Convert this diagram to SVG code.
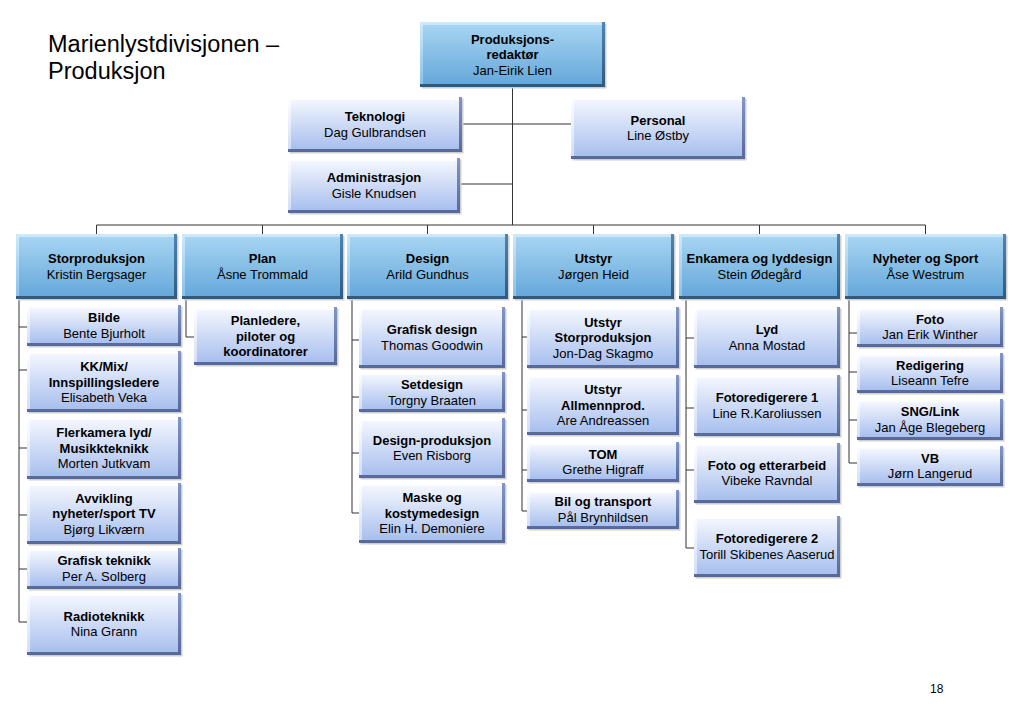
<svg xmlns="http://www.w3.org/2000/svg" width="1023" height="708" viewBox="0 0 1023 708">
<defs>
<linearGradient id="gDB" x1="0" y1="0" x2="0" y2="1">
<stop offset="0" stop-color="#4f85b0"/><stop offset="1" stop-color="#2f5a80"/>
</linearGradient>
<linearGradient id="gDL" x1="0" y1="0" x2="0" y2="1">
<stop offset="0" stop-color="#cdeafa"/><stop offset="1" stop-color="#8cc2e8"/>
</linearGradient>
<linearGradient id="gDF" x1="0" y1="0" x2="0" y2="1">
<stop offset="0" stop-color="#a6d4f2"/><stop offset="1" stop-color="#66a8da"/>
</linearGradient>
<linearGradient id="gLB" x1="0" y1="0" x2="0" y2="1">
<stop offset="0" stop-color="#8196c4"/><stop offset="1" stop-color="#56699a"/>
</linearGradient>
<linearGradient id="gLL" x1="0" y1="0" x2="0" y2="1">
<stop offset="0" stop-color="#ffffff"/><stop offset="1" stop-color="#d2dff7"/>
</linearGradient>
<linearGradient id="gLF" x1="0" y1="0" x2="0" y2="1">
<stop offset="0" stop-color="#f3f6fe"/><stop offset="1" stop-color="#a8bfee"/>
</linearGradient>
</defs>
<style>
.sh{fill:#cfcfcf}
.dB{fill:url(#gDB)}
.dL{fill:url(#gDL)}
.dF{fill:url(#gDF)}
.lB{fill:url(#gLB)}
.lL{fill:url(#gLL)}
.lF{fill:url(#gLF)}
text{font-family:"Liberation Sans",Arial,sans-serif;font-size:13px;fill:#000;text-anchor:middle}
.b{font-weight:bold}
.ttl{font-size:23.5px;text-anchor:start}
.pg{font-size:12px;text-anchor:start}
#connectors path{fill:none;stroke:#333;stroke-width:1}
</style>
<rect width="1023" height="708" fill="#fff"/>
<text class="ttl" x="48" y="52">Marienlystdivisjonen –</text>
<text class="ttl" x="48" y="79">Produksjon</text>
<text class="pg" x="930" y="693">18</text>

<g id="connectors">
<path d="M512.5 87V225M462 124H571M460 184H512.5M96.5 225H925.5M96.5 225V234M262.5 225V234M427.5 225V234M593.5 225V234M759.5 225V234M925.5 225V234"/>
<path d="M19 299V622M19 327H27M19 370H27M19 448H27M19 515H27M19 569H27M19 622H27"/>
<path d="M186 299V337H194"/>
<path d="M352 299V513M352 340H359M352 397H359M352 453H359M352 513H359"/>
<path d="M522 299V511M522 337H527M522 410H527M522 470H527M522 511H527"/>
<path d="M686 299V548M686 338H694M686 408H694M686 470H694M686 548H694"/>
<path d="M849 299V463M849 333H857M849 372H857M849 420H857M849 463H857"/>
</g>

<g id="produksjonsredaktor">
<rect class="sh" x="421.5" y="23.5" width="185" height="65"/><rect class="dB" x="420" y="22" width="185" height="65"/><rect class="dL" x="420" y="22" width="182" height="62"/><rect class="dF" x="423" y="25" width="179" height="59"/>
<text class="b" x="512.5" y="43.5">Produksjons-</text><text class="b" x="512.5" y="59">redaktør</text><text x="512.5" y="74.5">Jan-Eirik Lien</text>
</g>
<g id="teknologi">
<rect class="sh" x="289.5" y="98.5" width="174" height="55"/><rect class="lB" x="288" y="97" width="174" height="55"/><rect class="lL" x="288" y="97" width="171" height="52"/><rect class="lF" x="291" y="100" width="168" height="49"/>
<text class="b" x="375" y="121.25">Teknologi</text><text x="375" y="136.75">Dag Gulbrandsen</text>
</g>
<g id="personal">
<rect class="sh" x="572.5" y="98.5" width="174" height="62"/><rect class="lB" x="571" y="97" width="174" height="62"/><rect class="lL" x="571" y="97" width="171" height="59"/><rect class="lF" x="574" y="100" width="168" height="56"/>
<text class="b" x="658" y="124.75">Personal</text><text x="658" y="140.25">Line Østby</text>
</g>
<g id="administrasjon">
<rect class="sh" x="289.5" y="159.5" width="172" height="55"/><rect class="lB" x="288" y="158" width="172" height="55"/><rect class="lL" x="288" y="158" width="169" height="52"/><rect class="lF" x="291" y="161" width="166" height="49"/>
<text class="b" x="374" y="182.25">Administrasjon</text><text x="374" y="197.75">Gisle Knudsen</text>
</g>

<g id="storproduksjon">
<rect class="sh" x="17.5" y="235.5" width="161" height="65"/><rect class="dB" x="16" y="234" width="161" height="65"/><rect class="dL" x="16" y="234" width="158" height="62"/><rect class="dF" x="19" y="237" width="155" height="59"/>
<text class="b" x="96.5" y="263.25">Storproduksjon</text><text x="96.5" y="278.75">Kristin Bergsager</text>
</g>
<g id="plan">
<rect class="sh" x="183.5" y="235.5" width="161" height="65"/><rect class="dB" x="182" y="234" width="161" height="65"/><rect class="dL" x="182" y="234" width="158" height="62"/><rect class="dF" x="185" y="237" width="155" height="59"/>
<text class="b" x="262.5" y="263.25">Plan</text><text x="262.5" y="278.75">Åsne Trommald</text>
</g>
<g id="design">
<rect class="sh" x="348.5" y="235.5" width="161" height="65"/><rect class="dB" x="347" y="234" width="161" height="65"/><rect class="dL" x="347" y="234" width="158" height="62"/><rect class="dF" x="350" y="237" width="155" height="59"/>
<text class="b" x="427.5" y="263.25">Design</text><text x="427.5" y="278.75">Arild Gundhus</text>
</g>
<g id="utstyr">
<rect class="sh" x="514.5" y="235.5" width="161" height="65"/><rect class="dB" x="513" y="234" width="161" height="65"/><rect class="dL" x="513" y="234" width="158" height="62"/><rect class="dF" x="516" y="237" width="155" height="59"/>
<text class="b" x="593.5" y="263.25">Utstyr</text><text x="593.5" y="278.75">Jørgen Heid</text>
</g>
<g id="enkamera">
<rect class="sh" x="680.5" y="235.5" width="161" height="65"/><rect class="dB" x="679" y="234" width="161" height="65"/><rect class="dL" x="679" y="234" width="158" height="62"/><rect class="dF" x="682" y="237" width="155" height="59"/>
<text class="b" x="759.5" y="263.25">Enkamera og lyddesign</text><text x="759.5" y="278.75">Stein Ødegård</text>
</g>
<g id="nyheter">
<rect class="sh" x="846.5" y="235.5" width="161" height="65"/><rect class="dB" x="845" y="234" width="161" height="65"/><rect class="dL" x="845" y="234" width="158" height="62"/><rect class="dF" x="848" y="237" width="155" height="59"/>
<text class="b" x="925.5" y="263.25">Nyheter og Sport</text><text x="925.5" y="278.75">Åse Westrum</text>
</g>

<g id="bilde">
<rect class="sh" x="28.5" y="306.5" width="154" height="41"/><rect class="lB" x="27" y="305" width="154" height="41"/><rect class="lL" x="27" y="305" width="151" height="38"/><rect class="lF" x="30" y="308" width="148" height="35"/>
<text class="b" x="104" y="322.25">Bilde</text><text x="104" y="337.75">Bente Bjurholt</text>
</g>
<g id="kkmix">
<rect class="sh" x="28.5" y="352.5" width="154" height="61"/><rect class="lB" x="27" y="351" width="154" height="61"/><rect class="lL" x="27" y="351" width="151" height="58"/><rect class="lF" x="30" y="354" width="148" height="55"/>
<text class="b" x="104" y="371">KK/Mix/</text><text class="b" x="104" y="386.5">Innspillingsledere</text><text x="104" y="402">Elisabeth Veka</text>
</g>
<g id="flerkamera">
<rect class="sh" x="28.5" y="418.5" width="154" height="62"/><rect class="lB" x="27" y="417" width="154" height="62"/><rect class="lL" x="27" y="417" width="151" height="59"/><rect class="lF" x="30" y="420" width="148" height="56"/>
<text class="b" x="104" y="437">Flerkamera lyd/</text><text class="b" x="104" y="452.5">Musikkteknikk</text><text x="104" y="468">Morten Jutkvam</text>
</g>
<g id="avvikling">
<rect class="sh" x="28.5" y="484.5" width="154" height="61"/><rect class="lB" x="27" y="483" width="154" height="61"/><rect class="lL" x="27" y="483" width="151" height="58"/><rect class="lF" x="30" y="486" width="148" height="55"/>
<text class="b" x="104" y="502.5">Avvikling</text><text class="b" x="104" y="518">nyheter/sport TV</text><text x="104" y="533.5">Bjørg Likværn</text>
</g>
<g id="grafiskteknikk">
<rect class="sh" x="28.5" y="549.5" width="154" height="41"/><rect class="lB" x="27" y="548" width="154" height="41"/><rect class="lL" x="27" y="548" width="151" height="38"/><rect class="lF" x="30" y="551" width="148" height="35"/>
<text class="b" x="104" y="565.25">Grafisk teknikk</text><text x="104" y="580.75">Per A. Solberg</text>
</g>
<g id="radioteknikk">
<rect class="sh" x="28.5" y="594.5" width="154" height="62"/><rect class="lB" x="27" y="593" width="154" height="62"/><rect class="lL" x="27" y="593" width="151" height="59"/><rect class="lF" x="30" y="596" width="148" height="56"/>
<text class="b" x="104" y="620.75">Radioteknikk</text><text x="104" y="636.25">Nina Grann</text>
</g>

<g id="planledere">
<rect class="sh" x="195.5" y="308.5" width="143" height="58"/><rect class="lB" x="194" y="307" width="143" height="58"/><rect class="lL" x="194" y="307" width="140" height="55"/><rect class="lF" x="197" y="310" width="137" height="52"/>
<text class="b" x="265.5" y="325">Planledere,</text><text class="b" x="265.5" y="340.5">piloter og</text><text class="b" x="265.5" y="356">koordinatorer</text>
</g>

<g id="grafiskdesign">
<rect class="sh" x="360.5" y="308.5" width="146" height="61"/><rect class="lB" x="359" y="307" width="146" height="61"/><rect class="lL" x="359" y="307" width="143" height="58"/><rect class="lF" x="362" y="310" width="140" height="55"/>
<text class="b" x="432" y="334.25">Grafisk design</text><text x="432" y="349.75">Thomas Goodwin</text>
</g>
<g id="setdesign">
<rect class="sh" x="360.5" y="373.5" width="146" height="40"/><rect class="lB" x="359" y="372" width="146" height="40"/><rect class="lL" x="359" y="372" width="143" height="37"/><rect class="lF" x="362" y="375" width="140" height="34"/>
<text class="b" x="432" y="389">Setdesign</text><text x="432" y="404.5">Torgny Braaten</text>
</g>
<g id="designproduksjon">
<rect class="sh" x="360.5" y="419.5" width="146" height="60"/><rect class="lB" x="359" y="418" width="146" height="60"/><rect class="lL" x="359" y="418" width="143" height="57"/><rect class="lF" x="362" y="421" width="140" height="54"/>
<text class="b" x="432" y="444.75">Design-produksjon</text><text x="432" y="460.25">Even Risborg</text>
</g>
<g id="maske">
<rect class="sh" x="360.5" y="484.5" width="146" height="60"/><rect class="lB" x="359" y="483" width="146" height="60"/><rect class="lL" x="359" y="483" width="143" height="57"/><rect class="lF" x="362" y="486" width="140" height="54"/>
<text class="b" x="432" y="502">Maske og</text><text class="b" x="432" y="517.5">kostymedesign</text><text x="432" y="533">Elin H. Demoniere</text>
</g>

<g id="utstyrstor">
<rect class="sh" x="528.5" y="308.5" width="152" height="61"/><rect class="lB" x="527" y="307" width="152" height="61"/><rect class="lL" x="527" y="307" width="149" height="58"/><rect class="lF" x="530" y="310" width="146" height="55"/>
<text class="b" x="603" y="326.5">Utstyr</text><text class="b" x="603" y="342">Storproduksjon</text><text x="603" y="357.5">Jon-Dag Skagmo</text>
</g>
<g id="utstyrallmenn">
<rect class="sh" x="528.5" y="376.5" width="152" height="60"/><rect class="lB" x="527" y="375" width="152" height="60"/><rect class="lL" x="527" y="375" width="149" height="57"/><rect class="lF" x="530" y="378" width="146" height="54"/>
<text class="b" x="603" y="394">Utstyr</text><text class="b" x="603" y="409.5">Allmennprod.</text><text x="603" y="425">Are Andreassen</text>
</g>
<g id="tom">
<rect class="sh" x="528.5" y="443.5" width="152" height="40"/><rect class="lB" x="527" y="442" width="152" height="40"/><rect class="lL" x="527" y="442" width="149" height="37"/><rect class="lF" x="530" y="445" width="146" height="34"/>
<text class="b" x="603" y="458.75">TOM</text><text x="603" y="474.25">Grethe Higraff</text>
</g>
<g id="bil">
<rect class="sh" x="528.5" y="491.5" width="152" height="39"/><rect class="lB" x="527" y="490" width="152" height="39"/><rect class="lL" x="527" y="490" width="149" height="36"/><rect class="lF" x="530" y="493" width="146" height="33"/>
<text class="b" x="603" y="506.25">Bil og transport</text><text x="603" y="521.75">Pål Brynhildsen</text>
</g>

<g id="lyd">
<rect class="sh" x="695.5" y="308.5" width="146" height="61"/><rect class="lB" x="694" y="307" width="146" height="61"/><rect class="lL" x="694" y="307" width="143" height="58"/><rect class="lF" x="697" y="310" width="140" height="55"/>
<text class="b" x="767" y="334.25">Lyd</text><text x="767" y="349.75">Anna Mostad</text>
</g>
<g id="fotored1">
<rect class="sh" x="695.5" y="376.5" width="146" height="61"/><rect class="lB" x="694" y="375" width="146" height="61"/><rect class="lL" x="694" y="375" width="143" height="58"/><rect class="lF" x="697" y="378" width="140" height="55"/>
<text class="b" x="767" y="402.25">Fotoredigerere 1</text><text x="767" y="417.75">Line R.Karoliussen</text>
</g>
<g id="fotoetter">
<rect class="sh" x="695.5" y="444.5" width="146" height="60"/><rect class="lB" x="694" y="443" width="146" height="60"/><rect class="lL" x="694" y="443" width="143" height="57"/><rect class="lF" x="697" y="446" width="140" height="54"/>
<text class="b" x="767" y="469.75">Foto og etterarbeid</text><text x="767" y="485.25">Vibeke Ravndal</text>
</g>
<g id="fotored2">
<rect class="sh" x="695.5" y="517.5" width="146" height="61"/><rect class="lB" x="694" y="516" width="146" height="61"/><rect class="lL" x="694" y="516" width="143" height="58"/><rect class="lF" x="697" y="519" width="140" height="55"/>
<text class="b" x="767" y="543.25">Fotoredigerere 2</text><text x="767" y="558.75">Torill Skibenes Aaserud</text>
</g>

<g id="foto">
<rect class="sh" x="858.5" y="308.5" width="146" height="40"/><rect class="lB" x="857" y="307" width="146" height="40"/><rect class="lL" x="857" y="307" width="143" height="37"/><rect class="lF" x="860" y="310" width="140" height="34"/>
<text class="b" x="930" y="323.75">Foto</text><text x="930" y="339.25">Jan Erik Winther</text>
</g>
<g id="redigering">
<rect class="sh" x="858.5" y="354.5" width="146" height="40"/><rect class="lB" x="857" y="353" width="146" height="40"/><rect class="lL" x="857" y="353" width="143" height="37"/><rect class="lF" x="860" y="356" width="140" height="34"/>
<text class="b" x="930" y="369.75">Redigering</text><text x="930" y="385.25">Liseann Tefre</text>
</g>
<g id="snglink">
<rect class="sh" x="858.5" y="400.5" width="146" height="41"/><rect class="lB" x="857" y="399" width="146" height="41"/><rect class="lL" x="857" y="399" width="143" height="38"/><rect class="lF" x="860" y="402" width="140" height="35"/>
<text class="b" x="930" y="416.25">SNG/Link</text><text x="930" y="431.75">Jan Åge Blegeberg</text>
</g>
<g id="vb">
<rect class="sh" x="858.5" y="447.5" width="146" height="40"/><rect class="lB" x="857" y="446" width="146" height="40"/><rect class="lL" x="857" y="446" width="143" height="37"/><rect class="lF" x="860" y="449" width="140" height="34"/>
<text class="b" x="930" y="462.75">VB</text><text x="930" y="478.25">Jørn Langerud</text>
</g>
</svg>
